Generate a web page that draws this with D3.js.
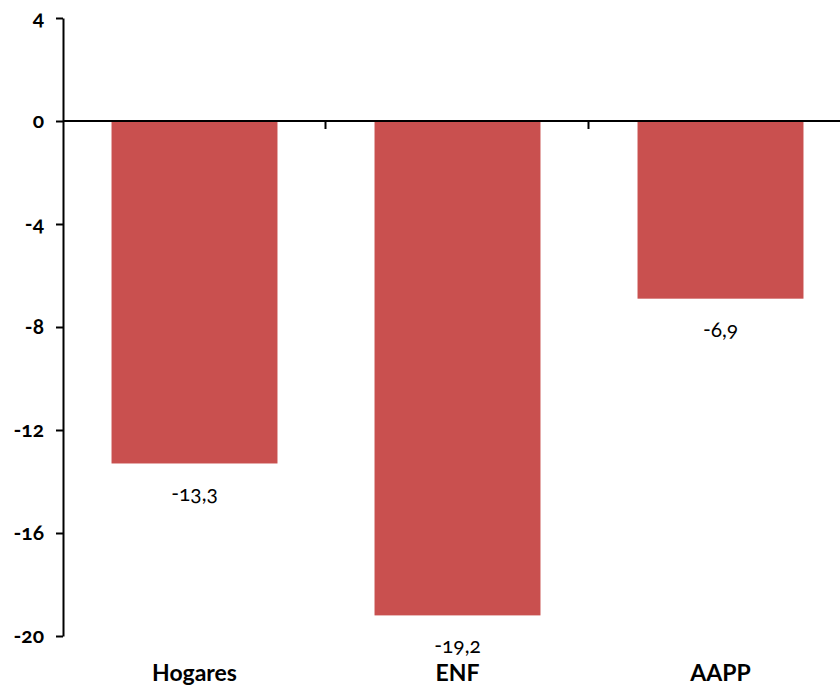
<!DOCTYPE html>
<html><head><meta charset="utf-8">
<script src="https://cdn.jsdelivr.net/npm/d3@7"></script>
<style>
html,body{margin:0;padding:0;background:#fff;}
svg{display:block;font-family:Lato,"Open Sans",sans-serif;font-variant-numeric:oldstyle-nums;}
</style></head><body>
<svg id="c" width="840" height="686"></svg>
<script>
const categories = ["Hogares", "ENF", "AAPP"];
const values = [-13.3, -19.2, -6.9];
const yTicks = [4, 0, -4, -8, -12, -16, -20];

const svg = d3.select("#c");
const x0 = 63, x1 = 852, yTop = 18, yBot = 636;
const y = d3.scaleLinear().domain([-20, 4]).range([yBot, yTop]);
const x = d3.scaleBand().domain(categories).range([x0, x1]).paddingInner(0.369).paddingOuter(0.1845);

const fmt = v => d3.format(".1f")(v).replace(".", ",").replace("−", "-");

// bars
svg.append("g").selectAll("rect").data(values).join("rect")
  .attr("x", (d, i) => x(categories[i]))
  .attr("width", x.bandwidth())
  .attr("y", d => y(Math.max(0, d)))
  .attr("height", d => Math.abs(y(d) - y(0)))
  .attr("fill", "#C9504F");

// value labels
svg.append("g").selectAll("text").data(values).join("text")
  .attr("x", (d, i) => x(categories[i]) + x.bandwidth() / 2)
  .attr("y", d => y(d) + 38)
  .attr("text-anchor", "middle")
  .attr("font-size", 21)
  .attr("fill", "#000")
  .text(d => fmt(d));

// y axis
const yAxis = d3.axisLeft(y).tickValues(yTicks).tickSize(7).tickSizeOuter(0).tickPadding(12)
  .tickFormat(d => d3.format("d")(d).replace("−", "-"));
const ga = svg.append("g").attr("transform", `translate(${x0},0)`).call(yAxis);
ga.select(".domain").attr("stroke", "#000").attr("stroke-width", 2);
ga.selectAll(".tick line").attr("stroke", "#000").attr("stroke-width", 2);
ga.selectAll(".tick text").attr("font-size", 21).attr("font-weight", "bold").attr("fill", "#000")
  .attr("font-family", "Lato, sans-serif");

// x axis at zero
const gx = svg.append("g").attr("transform", `translate(0,${y(0)})`);
gx.append("line").attr("x1", x0).attr("x2", 840).attr("y1", 0).attr("y2", 0)
  .attr("stroke", "#000").attr("stroke-width", 2);
const step = x.step();
categories.slice(1).forEach((c, i) => {
  const bx = x(c) - x.paddingInner() * step / 2 - 0.5;
  gx.append("line").attr("x1", bx).attr("x2", bx).attr("y1", 0).attr("y2", 8)
    .attr("stroke", "#000").attr("stroke-width", 2);
});

// category labels
svg.append("g").selectAll("text").data(categories).join("text")
  .attr("x", d => x(d) + x.bandwidth() / 2)
  .attr("y", 681)
  .attr("text-anchor", "middle")
  .attr("font-size", 23)
  .attr("font-weight", "bold")
  .attr("fill", "#000")
  .text(d => d);
</script>
</body></html>
